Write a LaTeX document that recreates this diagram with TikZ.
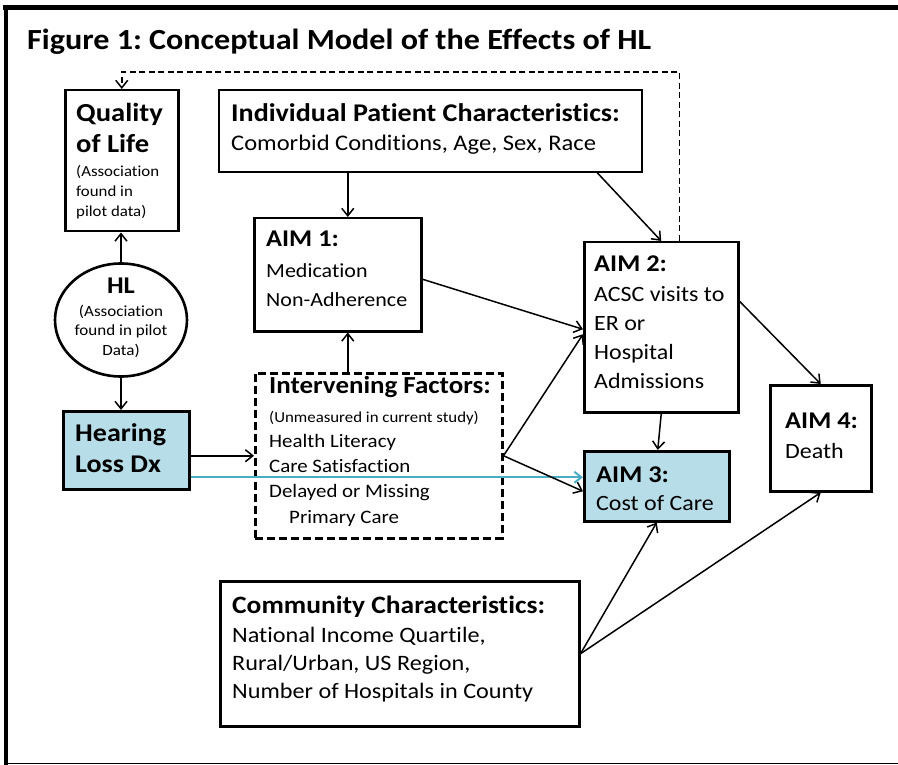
\documentclass[tikz,border=0pt]{standalone}
\usepackage{fontspec}
\setmainfont{Carlito}[FakeStretch=1.1, Ligatures=NoCommon]
\usetikzlibrary{arrows.meta,calc,shapes.geometric}
\definecolor{boxblue}{HTML}{B7DDE8}
\definecolor{lineblue}{HTML}{4BACC6}
\frenchspacing
\begin{document}
\begin{tikzpicture}[x=1pt,y=-1pt,
  boxframe/.style={draw, line width=2.5pt, inner sep=0pt, anchor=north west},
  txt/.style={anchor=base west, inner sep=0pt, align=left},
  ctxt/.style={anchor=base, inner sep=0pt, align=center},
  tip/.style={-{Straight Barb[length=7.5pt,width=12pt,line width=1.5pt]}},
  arr/.style={line width=1.5pt, tip},
  dasharr/.style={line width=1.5pt, dash pattern=on 6pt off 3.5pt, tip},
  bluearr/.style={draw=lineblue, line width=2.2pt,
    -{Straight Barb[length=7pt,width=11pt,line width=2pt]}},
  aimhead/.style={font=\fontsize{24}{29}\selectfont\bfseries},
  aimbody/.style={font=\fontsize{21.8}{28.7}\selectfont}
]
\useasboundingbox (0,0) rectangle (898,765);

% outer frame: heavy top and left edges, thin bottom edge
\draw[line width=4.5pt] (3,7.3) -- (898,7.3);
\draw[line width=4pt] (5.7,5) -- (5.7,765);
\draw[line width=1.6pt] (4,763.4) -- (898,763.4);

\node[txt, font=\fontsize{29.2}{32}\selectfont\bfseries] (title) at (27,50)
  {Figure 1: Conceptual Model of the Effects of HL};

% Quality of Life (multi-line texts are placed by their last baseline)
\node[boxframe, minimum width=113pt, minimum height=141pt] (qol) at (64,89) {};
\node[txt, font=\fontsize{26}{31}\selectfont\bfseries] (qolhead) at (76,153) {Quality\\of Life};
\node[txt, font=\fontsize{15.3}{20}\selectfont] (qolnote) at (76,217) {(Association\\found in\\pilot data)};

% HL
\node[draw, ellipse, line width=2.6pt, minimum width=132pt, minimum height=113pt,
  inner sep=0pt] (hl) at (121,320) {};
\node[ctxt, font=\fontsize{24}{30}\selectfont\bfseries] (hlhead) at (121,293) {HL};
\node[ctxt, font=\fontsize{15.5}{19.3}\selectfont] (hlnote) at (121,355)
  {(Association\\found in pilot\\Data)};

% Hearing Loss Dx
\node[boxframe, fill=boxblue, minimum width=126pt, minimum height=78pt] (hld) at (62,410) {};
\node[txt, font=\fontsize{25.5}{31}\selectfont\bfseries] (hldtext) at (75,472) {Hearing\\Loss Dx};

% Individual Patient Characteristics
\node[boxframe, line width=2pt, minimum width=423pt, minimum height=82pt] (ipc) at (218,89) {};
\node[txt, font=\fontsize{25.5}{29}\selectfont\bfseries] (ipchead) at (231,122) {Individual Patient Characteristics:};
\node[txt, font=\fontsize{22.3}{28}\selectfont] (ipcbody) at (231,151) {Comorbid Conditions, Age, Sex, Race};

% AIM 1
\node[boxframe, minimum width=167pt, minimum height=113pt] (aim1) at (253,217) {};
\node[txt, aimhead] (aim1head) at (266,247) {AIM 1:};
\node[txt, font=\fontsize{20}{29}\selectfont] (aim1body) at (266,306) {Medication\\Non-Adherence};

% Intervening Factors
\node[boxframe, dash pattern=on 8pt off 4pt, minimum width=247pt, minimum height=165pt] (interv) at (254,372) {};
\node[txt, font=\fontsize{24.5}{26}\selectfont\bfseries] (intervhead) at (269,393) {Intervening Factors:};
\node[txt, font=\fontsize{15.3}{19}\selectfont] (intervnote) at (269,422) {(Unmeasured in current study)};
\node[txt, font=\fontsize{19}{25.3}\selectfont] (intervbody) at (269,523)
  {Health Literacy\\Care Satisfaction\\Delayed or Missing\\\hspace*{20pt}Primary Care};

% AIM 2
\node[boxframe, minimum width=154pt, minimum height=170pt] (aim2) at (583,241) {};
\node[txt, aimhead] (aim2head) at (594,272) {AIM 2:};
\node[txt, aimbody] (aim2body) at (594,388)
  {ACSC visits to\\ER or\\Hospital\\Admissions};

% AIM 3
\node[boxframe, fill=boxblue, minimum width=145pt, minimum height=70pt] (aim3) at (583,450) {};
\node[txt, aimhead] (aim3head) at (596,482) {AIM 3:};
\node[txt, aimbody] (aim3body) at (596,510) {Cost of Care};

% AIM 4
\node[boxframe, minimum width=101pt, minimum height=106pt] (aim4) at (769,384) {};
\node[txt, aimhead] (aim4head) at (785,428) {AIM 4:};
\node[txt, aimbody] (aim4body) at (785,458) {Death};

% Community Characteristics
\node[boxframe, minimum width=359pt, minimum height=145pt] (comm) at (219,580) {};
\node[txt, font=\fontsize{25}{29}\selectfont\bfseries] (commhead) at (232,613) {Community Characteristics:};
\node[txt, font=\fontsize{22}{28}\selectfont] (commbody) at (232,698)
  {National Income Quartile,\\Rural/Urban, US Region,\\Number of Hospitals in County};

% connectors
\draw[arr] (hl.north) -- (hl.north |- qol.south);
\draw[arr] (hl.south) -- (hl.south |- hld.north);
\draw[arr] (hld.east |- interv.west) -- (interv.west);
\draw[bluearr] ([yshift=-27pt]hld.east) coordinate (bluestart) -- (bluestart -| aim3.west);
\draw[arr] ([xshift=10pt]aim1.south |- interv.north) -- ([xshift=10pt]aim1.south);
\draw[arr] ([xshift=10pt]aim1.north |- ipc.south) -- ([xshift=10pt]aim1.north);
\draw[arr] ([xshift=167pt]ipc.south) -- (aim2.north);
\draw[arr] ([yshift=-4.5pt]aim1.east) -- ([yshift=-2pt]aim2.west);
\draw[arr] (interv.east) -- ([yshift=-7pt]aim2.west);
\draw[arr] (interv.east) -- ([yshift=-5pt]aim3.west);
\draw[arr] (aim2.south) -- ([xshift=1pt]aim3.north);
\draw[arr] ([yshift=26pt]aim2.east) -- (aim4.north);
\draw[arr] (comm.east) -- (aim3.south);
\draw[arr] (comm.east) -- (aim4.south);
\draw[dasharr] ([xshift=18pt]aim2.north) |- ([yshift=17pt]qol.north) -- (qol.north);
\end{tikzpicture}
\end{document}
